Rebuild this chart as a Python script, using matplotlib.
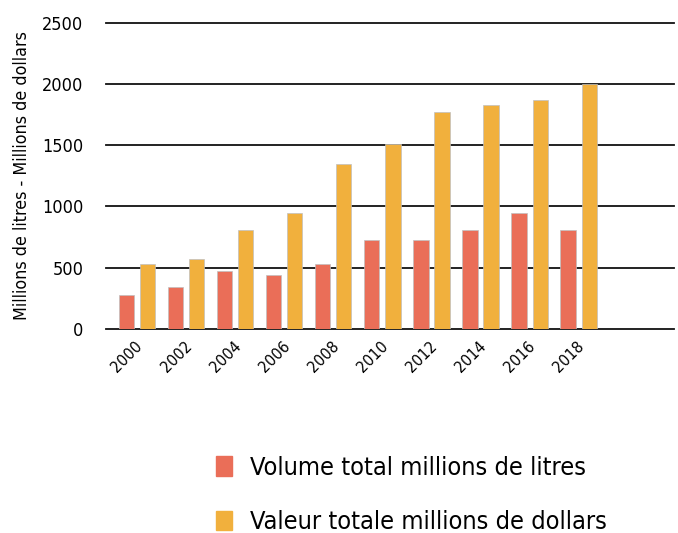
import matplotlib.pyplot as plt
import numpy as np
from matplotlib.patches import Patch

years = ['2000', '2002', '2004', '2006', '2008', '2010', '2012', '2014', '2016', '2018']
volume = [280, 340, 470, 440, 530, 730, 730, 810, 950, 810]
valeur = [530, 570, 810, 950, 1350, 1510, 1770, 1830, 1870, 2000]

label_volume = 'Volume total millions de litres'
label_valeur = 'Valeur totale millions de dollars'

red = '#EA6E58'
yellow = '#F1B03D'

plt.rcParams['font.family'] = ['DejaVu Sans']
plt.rcParams['font.stretch'] = 'condensed'

fig = plt.figure(figsize=(6.78, 5.33), dpi=100)
ax = fig.add_axes([0.157, 0.383, 0.837, 0.574])

x = np.arange(len(years))
w = 0.312
ax.bar(x - 0.215, volume, w, color=red, edgecolor='#c0c0c0', linewidth=0.5, zorder=3)
ax.bar(x + 0.215, valeur, w, color=yellow, edgecolor='#c0c0c0', linewidth=0.5, zorder=3)

ax.set_ylim(0, 2500)
ax.set_xlim(-0.62, 10.94)
ax.set_yticks(range(0, 2501, 500))
ax.tick_params(axis='y', length=0, pad=16.5, labelsize=13)
ax.yaxis.grid(True, color='#111111', linewidth=1.3)
for gl in ax.get_ygridlines():
    gl.set_clip_on(False)
ax.set_axisbelow(True)
for s in ax.spines.values():
    s.set_visible(False)

ax.set_xticks(x - 0.04)
ax.set_xticklabels(years, rotation=45, ha='right', rotation_mode='anchor', fontsize=11.5)
ax.tick_params(axis='x', length=0, pad=7)

ax.set_ylabel('Millions de litres - Millions de dollars', fontsize=12.8, labelpad=8)

handles = [Patch(color=red), Patch(color=yellow)]
fig.legend(handles, [label_volume, label_valeur], loc='upper left',
           bbox_to_anchor=(0.3186, 0.145), frameon=False, fontsize=18.2,
           borderpad=0, borderaxespad=0,
           handlelength=0.64, handleheight=0.8, labelspacing=1.2, handletextpad=0.72)

fig.savefig('out.png', dpi=100)
